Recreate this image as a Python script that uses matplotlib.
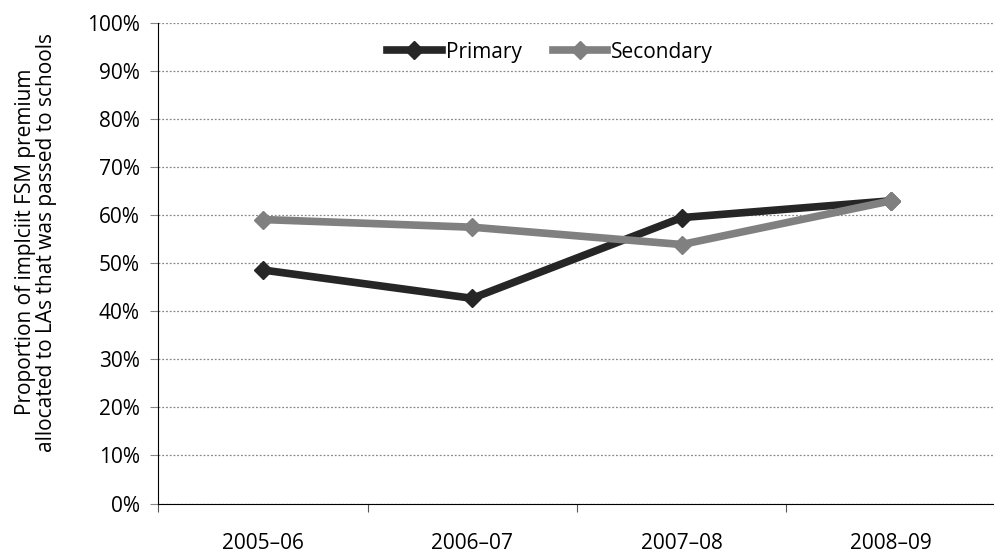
import matplotlib
matplotlib.use("Agg")
import matplotlib.pyplot as plt
import numpy as np

categories = ["2005–06", "2006–07", "2007–08", "2008–09"]
primary = [48.6, 42.7, 59.5, 63.0]
secondary = [59.1, 57.5, 53.9, 63.0]
yticks = list(range(0, 101, 10))

plt.rcParams['font.family'] = ['Open Sans', 'DejaVu Sans']

fig = plt.figure(figsize=(9.94, 5.53), dpi=100)
ax = fig.add_axes([158/994, 1 - 503.5/553, (996-158)/994, (503.5-23)/553])

x = np.arange(len(categories))
ax.plot(x, primary, color="#262626", lw=5.5, marker="D", ms=9, label="Primary", solid_joinstyle="miter")
ax.plot(x, secondary, color="#808080", lw=5.5, marker="D", ms=9, label="Secondary", solid_joinstyle="miter")

ax.set_xlim(-0.5, 3.5)
ax.set_ylim(0, 100)
ax.set_yticks(yticks)
ax.set_yticklabels([f"{v}%" for v in yticks], fontsize=15)
ax.yaxis.grid(True, color="#888888", linestyle=(0, (1.5, 1.5)), linewidth=0.9)
ax.set_axisbelow(True)

ax.set_xticks([-0.5, 0.5, 1.5, 2.5])
ax.set_xticklabels([])
ax.set_xticks(x, minor=True)
ax.set_xticklabels(categories, minor=True, fontsize=15)
ax.tick_params(axis="x", which="major", length=6, direction="out", color="#555555")
ax.tick_params(axis="x", which="minor", length=0, pad=21)
ax.tick_params(axis="y", length=6, direction="out", color="#888888", pad=7)

for s in ["top", "right"]:
    ax.spines[s].set_visible(False)
ax.spines["left"].set_color("#000000")
ax.spines["bottom"].set_color("#000000")

fig.text(36/994, 1 - 242/553, "Proportion of implciit FSM premium\nallocated to LAs that was passed to schools",
         fontsize=15, linespacing=1.0, rotation=90, ha="center", va="center")

leg = ax.legend(loc="upper center", bbox_to_anchor=(0.468, 1.0), ncol=2, frameon=False,
                fontsize=15, handlelength=2.6, handletextpad=0.2, columnspacing=1.5)

fig.savefig("out.png", dpi=100)
